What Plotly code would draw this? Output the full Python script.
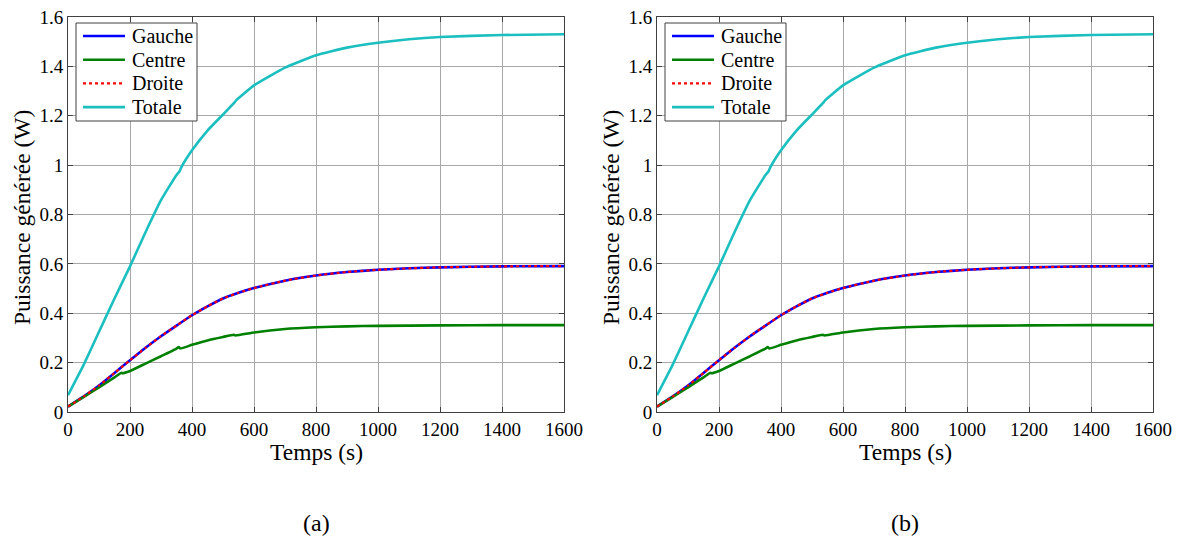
import plotly.graph_objects as go

# Gauche / Droite
t_lr = [0, 50, 100, 150, 200, 250, 300, 350, 400, 450, 500, 550, 600, 700, 800, 900, 1000, 1100, 1200, 1400, 1600]
gauche = [0.022, 0.062, 0.107, 0.158, 0.210, 0.260, 0.307, 0.350, 0.392, 0.428, 0.460, 0.483, 0.502, 0.532, 0.553, 0.567, 0.576, 0.582, 0.586, 0.590, 0.591]
droite = [0.022, 0.062, 0.107, 0.158, 0.210, 0.260, 0.307, 0.350, 0.392, 0.428, 0.460, 0.483, 0.502, 0.532, 0.553, 0.567, 0.576, 0.582, 0.586, 0.590, 0.591]
# Centre
t_c = [0, 50, 100, 150, 172, 176, 200, 250, 300, 350, 357, 362, 400, 450, 500, 535, 540, 600, 700, 800, 900, 1000, 1200, 1400, 1600]
centre = [0.022, 0.060, 0.100, 0.140, 0.159, 0.157, 0.166, 0.196, 0.226, 0.257, 0.263, 0.257, 0.272, 0.290, 0.304, 0.313, 0.310, 0.322, 0.336, 0.343, 0.347, 0.349, 0.351, 0.352, 0.352]
# Totale
t_tot = [0, 50, 100, 150, 200, 250, 300, 350, 360, 365, 400, 450, 500, 538, 542, 600, 700, 800, 900, 1000, 1100, 1200, 1400, 1600]
totale = [0.068, 0.190, 0.325, 0.460, 0.590, 0.728, 0.858, 0.960, 0.975, 0.990, 1.060, 1.140, 1.205, 1.255, 1.262, 1.323, 1.395, 1.445, 1.476, 1.496, 1.510, 1.519, 1.527, 1.530]

yticks = [0, 0.2, 0.4, 0.6, 0.8, 1, 1.2, 1.4, 1.6]
ytext = ["0", "0.2", "0.4", "0.6", "0.8", "1", "1.2", "1.4", "1.6"]
xticks = [0, 200, 400, 600, 800, 1000, 1200, 1400, 1600]
panel_labels = ["(a)", "(b)"]
x_title = "Temps (s)"
y_title = "Puissance générée (W)"

names = ["Gauche", "Centre", "Droite", "Totale"]
colors = ["#0000ff", "#008000", "#ff0000", "#1cbfbf"]
dashes = ["solid", "solid", "dot", "solid"]
xs = [t_lr, t_c, t_lr, t_tot]
series = [gauche, centre, droite, totale]

FONT = "'Liberation Serif', 'Times New Roman', 'DejaVu Serif', serif"
W, H = 1185, 547

def px(x):
    return x / W

def py(y):
    return (H - y) / H

fig = go.Figure()

panels = [
    dict(x0=68, xa="x", ya="y"),
    dict(x0=657, xa="x2", ya="y2"),
]
PW = 496
ydom = [py(412), py(17)]

for p in panels:
    for n, c, d, x, s in zip(names, colors, dashes, xs, series):
        fig.add_trace(go.Scatter(
            x=x, y=s, name=n, mode="lines", xaxis=p["xa"], yaxis=p["ya"],
            line=dict(color=c, width=2.6 if d == "solid" else 2.2, dash=d,
                      shape="spline", smoothing=0.4),
            showlegend=False,
        ))

axis_common = dict(
    showgrid=True, gridcolor="#a8a8a8", gridwidth=1,
    showline=True, linecolor="#404040", linewidth=1, mirror="ticks",
    ticks="inside", ticklen=5, tickcolor="#404040",
    tickfont=dict(family=FONT, size=19, color="#000"),
    zeroline=False, fixedrange=True, automargin=False,
)

layout = dict(
    width=W, height=H,
    margin=dict(l=0, r=0, t=0, b=0),
    paper_bgcolor="white", plot_bgcolor="white",
    showlegend=False,
    font=dict(family=FONT, color="#000"),
)

shapes = []
annotations = []
for i, p in enumerate(panels):
    sfx = "" if i == 0 else "2"
    x0 = p["x0"]
    layout["xaxis" + sfx] = dict(
        axis_common, domain=[px(x0), px(x0 + PW)], range=[0, 1600], tickvals=xticks,
        anchor="y" + sfx, ticklabelstandoff=0,
    )
    layout["yaxis" + sfx] = dict(
        axis_common, domain=ydom, range=[0, 1.6], tickvals=yticks, ticktext=ytext,
        anchor="x" + sfx, ticklabelstandoff=0,
    )
    # axis titles
    annotations.append(dict(x=px(x0 + PW / 2), y=py(452), xref="paper", yref="paper",
                            text=x_title, showarrow=False, xanchor="center", yanchor="middle",
                            font=dict(family=FONT, size=23.5, color="#000")))
    annotations.append(dict(x=px(x0 - 46), y=py(218), xref="paper", yref="paper",
                            text=y_title, showarrow=False, textangle=-90,
                            xanchor="center", yanchor="middle",
                            font=dict(family=FONT, size=23.5, color="#000")))
    # legend box (drawn manually to match the original legend geometry)
    bx0 = x0 + 8
    shapes.append(dict(type="rect", xref="paper", yref="paper",
                       x0=px(bx0), x1=px(bx0 + 121), y0=py(121), y1=py(23),
                       line=dict(color="#404040", width=1), fillcolor="white", layer="above"))
    for k, (n, c, d) in enumerate(zip(names, colors, dashes)):
        yy = 36 + k * 23.7
        shapes.append(dict(type="line", xref="paper", yref="paper",
                           x0=px(bx0 + 7), x1=px(bx0 + 49), y0=py(yy), y1=py(yy),
                           line=dict(color=c, width=2.6 if d == "solid" else 2.2, dash=d),
                           layer="above"))
        annotations.append(dict(x=px(bx0 + 54), y=py(yy), xref="paper", yref="paper",
                                text=n, showarrow=False, xanchor="left", yanchor="middle",
                                font=dict(family=FONT, size=20, color="#000")))
    annotations.append(dict(x=px(x0 + PW / 2), y=py(523), xref="paper", yref="paper",
                            text=panel_labels[i], showarrow=False,
                            xanchor="center", yanchor="middle",
                            font=dict(family=FONT, size=24, color="#000")))

layout["shapes"] = shapes
layout["annotations"] = annotations
fig.update_layout(**layout)

fig.write_html("out.html", config={"displayModeBar": False},
               post_script="document.body.style.margin='0';document.body.style.padding='0';")
